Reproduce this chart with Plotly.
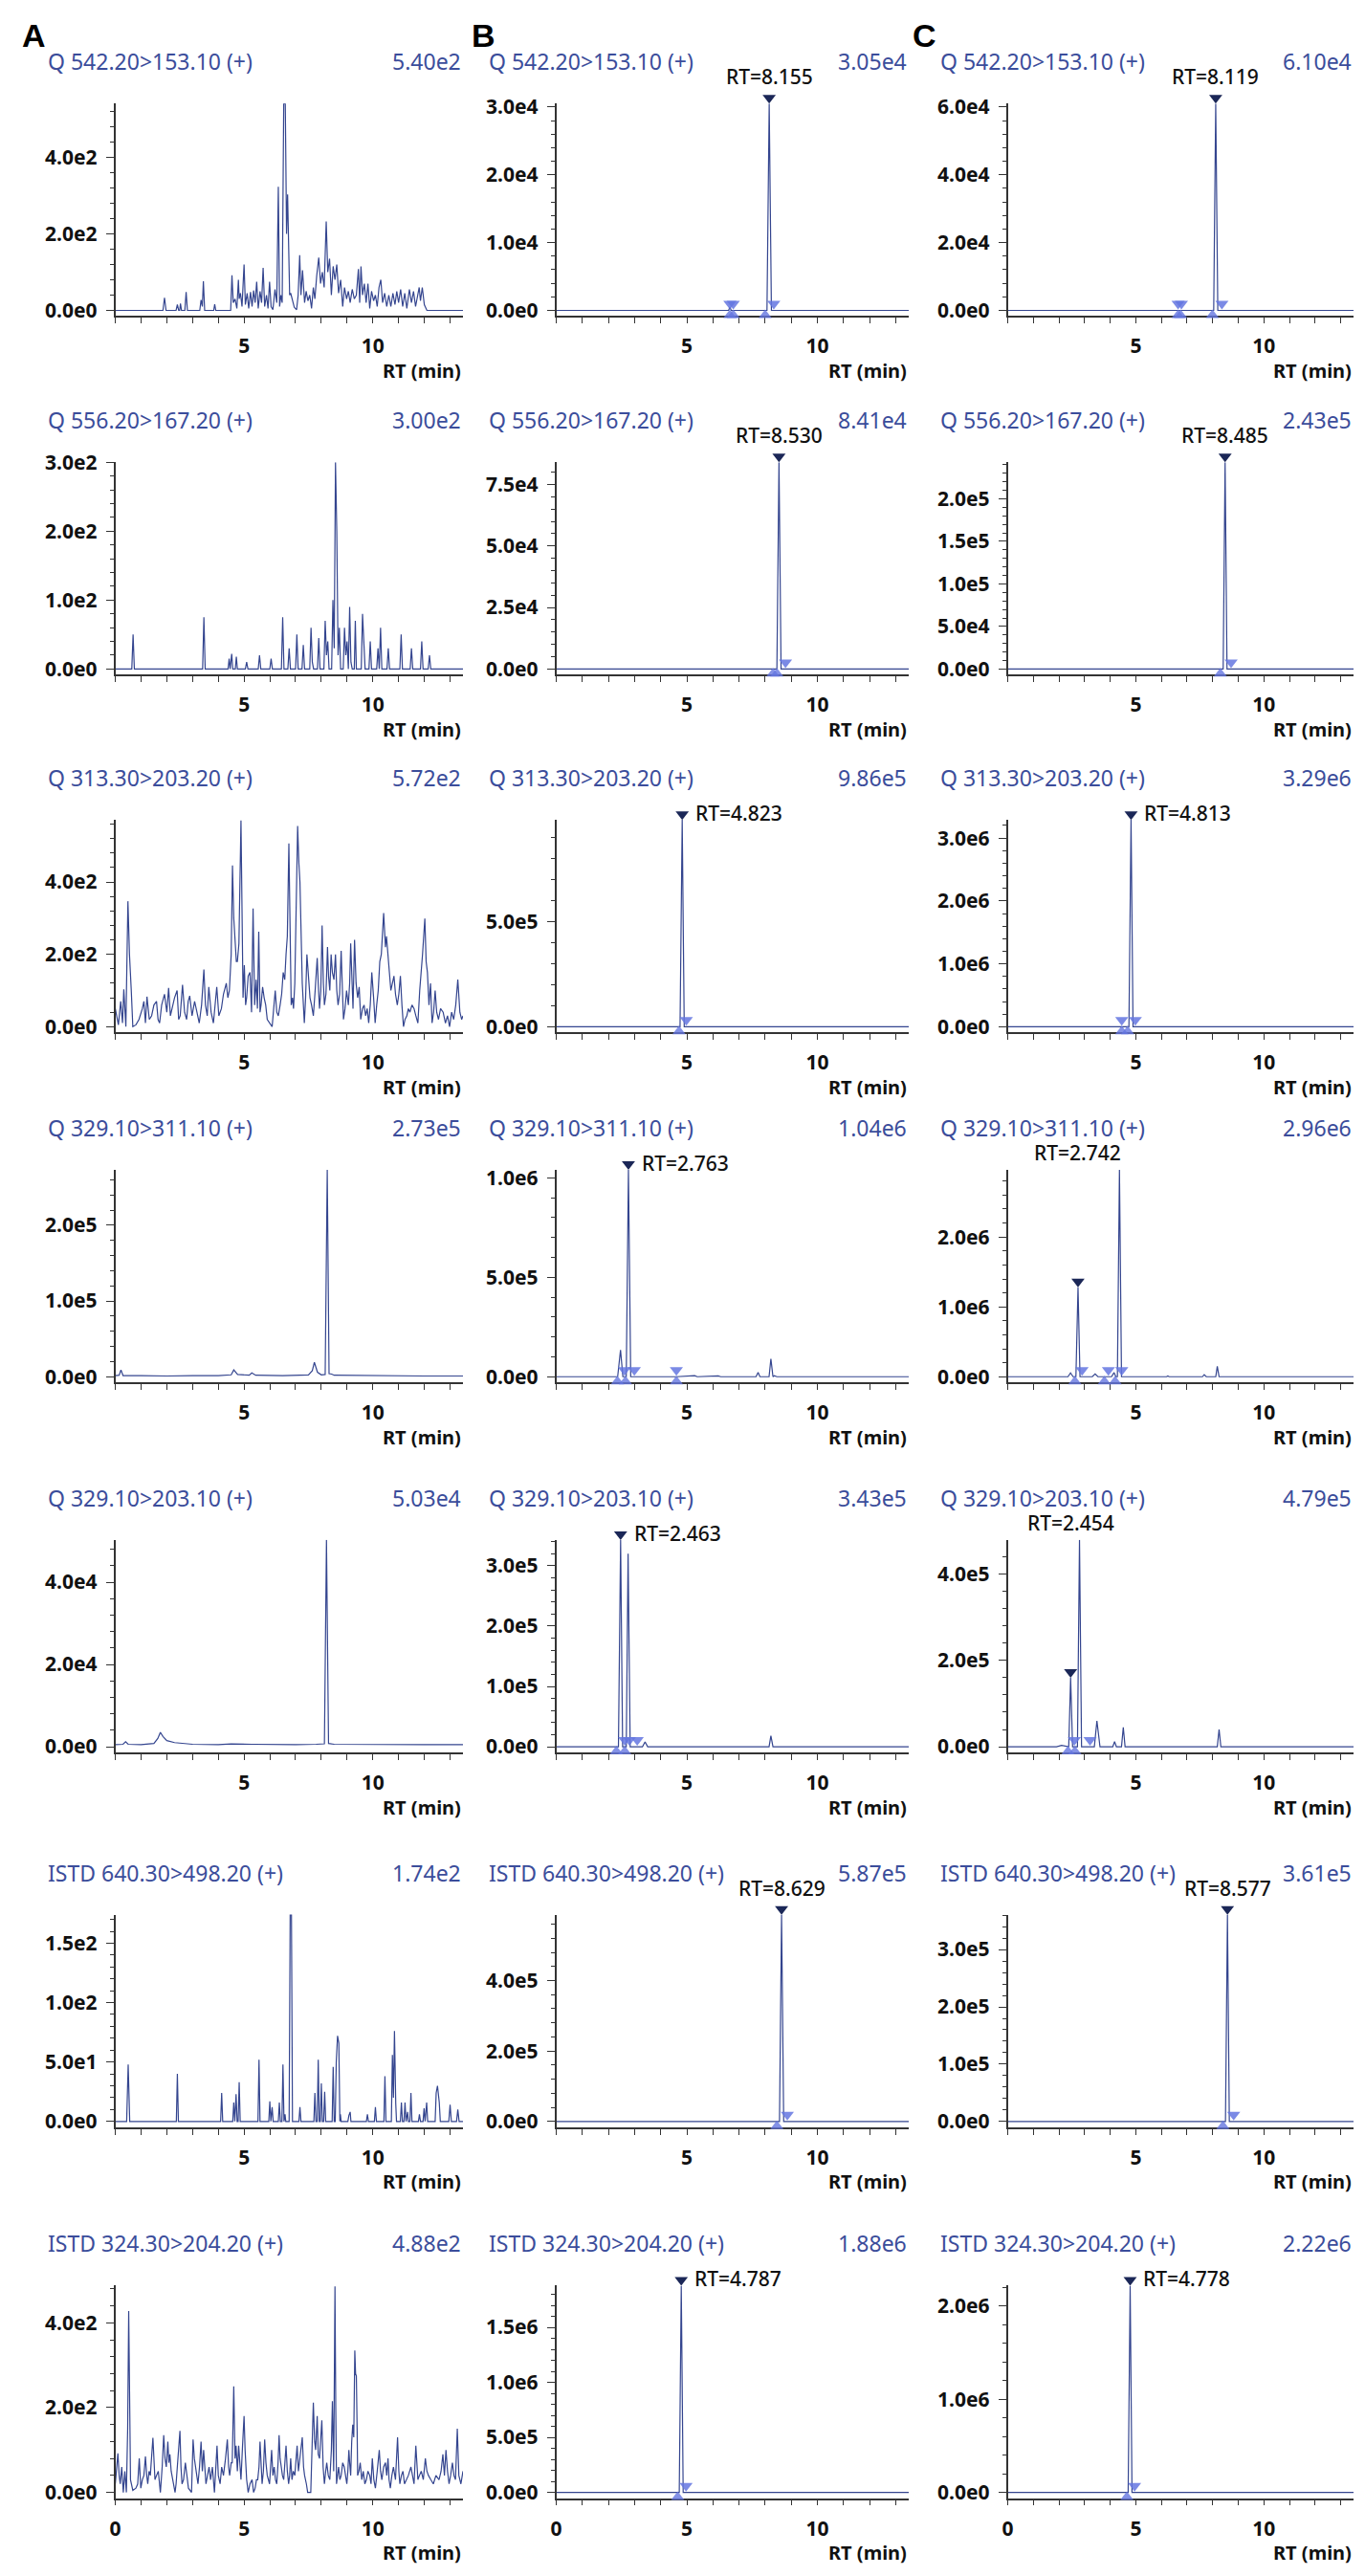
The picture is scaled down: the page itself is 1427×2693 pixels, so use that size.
import math
import plotly.graph_objects as go

# ---------------- values ----------------
ROW_TITLES = ["Q 542.20>153.10 (+)", "Q 556.20>167.20 (+)", "Q 313.30>203.20 (+)",
              "Q 329.10>311.10 (+)", "Q 329.10>203.10 (+)",
              "ISTD 640.30>498.20 (+)", "ISTD 324.30>204.20 (+)"]
PANEL_LETTERS = ["A", "B", "C"]

# intensity printed in the top-right corner (= y axis maximum)
MAX_A = [5.40e2, 3.00e2, 5.72e2, 2.73e5, 5.03e4, 1.74e2, 4.88e2]
MAX_B = [3.05e4, 8.41e4, 9.86e5, 1.04e6, 3.43e5, 5.87e5, 1.88e6]
MAX_C = [6.10e4, 2.43e5, 3.29e6, 2.96e6, 4.79e5, 3.61e5, 2.22e6]

# labelled y tick step per panel
YSTEP_A = [2e2, 1e2, 2e2, 1e5, 2e4, 5e1, 2e2]
YSTEP_B = [1e4, 2.5e4, 5e5, 5e5, 1e5, 2e5, 5e5]
YSTEP_C = [2e4, 5e4, 1e6, 1e6, 2e5, 1e5, 1e6]

# identified peak (retention time and apex height)
RT_B = [8.155, 8.530, 4.823, 2.763, 2.463, 8.629, 4.787]
RT_C = [8.119, 8.485, 4.813, 2.742, 2.454, 8.577, 4.778]
APEX_B = [3.05e4, 8.41e4, 9.86e5, 1.04e6, 3.43e5, 5.87e5, 1.88e6]
APEX_C = [6.10e4, 2.43e5, 3.29e6, 1.28e6, 1.60e5, 3.61e5, 2.22e6]

# integration marks: down triangles above the baseline, up triangles below it
DOWN_B = [[6.65, 6.78, 8.33], [8.78], [4.98], [2.61, 2.99, 4.60], [2.62, 2.80, 3.10], [8.85], [4.97]]
UP_B = [[6.65, 6.78, 8.00], [8.30, 8.45], [4.70], [2.34, 2.65, 4.60], [2.30, 2.62], [8.45], [4.65]]
DOWN_C = [[6.65, 6.78, 8.36], [8.72], [4.45, 4.98], [2.90, 3.93, 4.45], [2.60, 3.21], [8.82], [4.95]]
UP_C = [[6.65, 6.75, 7.99], [8.30], [4.45, 4.68], [2.62, 3.77, 4.19], [2.35, 2.62], [8.40], [4.65]]

# traces: (RT min, intensity)
A1_PTS = [(0, 0), (1.85, 0), (1.91, 33), (1.97, 0), (2.36, 0), (2.41, 15), (2.46, 0), (2.50, 0), (2.53, 18),
          (2.57, 0), (2.70, 0), (2.75, 48), (2.80, 0), (3.28, 0), (3.33, 27), (3.38, 10), (3.42, 76), (3.47, 0),
          (3.82, 0), (3.86, 16), (3.90, 0), (4.48, 0), (4.53, 92), (4.58, 20), (4.65, 30), (4.72, 5), (4.78, 80),
          (4.81, 30), (4.86, 45), (4.92, 10), (5.00, 120), (5.05, 15), (5.12, 45), (5.18, 5), (5.25, 48),
          (5.31, 10), (5.37, 52), (5.43, 20), (5.49, 75), (5.55, 5), (5.62, 50), (5.68, 20), (5.74, 111),
          (5.80, 10), (5.87, 40), (5.93, 5), (5.99, 75), (6.05, 10), (6.12, 2), (6.20, 55), (6.27, 20),
          (6.33, 323), (6.38, 10), (6.43, 40), (6.48, 20), (6.54, 540), (6.60, 540), (6.65, 200), (6.69, 303),
          (6.73, 200), (6.77, 40), (6.81, 45), (6.87, 30), (6.95, 8), (7.04, 2), (7.10, 40), (7.16, 144),
          (7.21, 40), (7.27, 105), (7.35, 20), (7.41, 50), (7.48, 25), (7.55, 40), (7.62, 5), (7.69, 60),
          (7.75, 30), (7.82, 90), (7.90, 138), (7.97, 70), (8.04, 100), (8.11, 60), (8.19, 232), (8.25, 100),
          (8.32, 135), (8.39, 40), (8.46, 115), (8.53, 80), (8.60, 120), (8.67, 45), (8.75, 80), (8.83, 10),
          (8.90, 60), (8.98, 30), (9.05, 50), (9.12, 20), (9.20, 55), (9.28, 30), (9.36, 40), (9.44, 108),
          (9.49, 20), (9.54, 115), (9.60, 40), (9.67, 70), (9.74, 20), (9.81, 70), (9.88, 5), (9.95, 50),
          (10.03, 25), (10.10, 40), (10.17, 10), (10.24, 60), (10.31, 80), (10.38, 20), (10.46, 45),
          (10.54, 10), (10.62, 40), (10.70, 10), (10.78, 45), (10.86, 15), (10.93, 50), (11.00, 20),
          (11.08, 55), (11.16, 10), (11.24, 45), (11.32, 5), (11.42, 55), (11.50, 20), (11.58, 50),
          (11.66, 10), (11.74, 45), (11.80, 60), (11.85, 25), (11.92, 60), (12.00, 15), (12.10, 0), (13.5, 0)]

A2_PTS = [(0, 0), (0.64, 0), (0.69, 50), (0.74, 0), (3.39, 0), (3.44, 75), (3.49, 0), (4.38, 0), (4.42, 15),
          (4.46, 0), (4.52, 22), (4.56, 0), (4.66, 0), (4.70, 18), (4.74, 0), (5.05, 0), (5.10, 10), (5.15, 0),
          (5.55, 0), (5.60, 20), (5.65, 0), (6.00, 0), (6.05, 15), (6.10, 0), (6.45, 0), (6.50, 75), (6.55, 0),
          (6.70, 0), (6.75, 30), (6.80, 0), (7.00, 0), (7.05, 50), (7.10, 0), (7.25, 0), (7.30, 35), (7.35, 0),
          (7.55, 0), (7.60, 60), (7.65, 10), (7.70, 0), (7.85, 0), (7.90, 45), (7.95, 0), (8.10, 0), (8.15, 70),
          (8.20, 20), (8.25, 40), (8.30, 0), (8.40, 0), (8.45, 100), (8.50, 30), (8.55, 300), (8.60, 200),
          (8.65, 20), (8.70, 60), (8.75, 0), (8.85, 0), (8.90, 60), (8.95, 20), (9.00, 40), (9.05, 0),
          (9.10, 90), (9.15, 10), (9.20, 0), (9.28, 0), (9.32, 70), (9.36, 0), (9.55, 0), (9.60, 80),
          (9.65, 30), (9.70, 0), (9.85, 0), (9.90, 40), (9.95, 0), (10.15, 0), (10.20, 30), (10.25, 0),
          (10.30, 60), (10.35, 0), (10.55, 0), (10.60, 30), (10.65, 0), (11.05, 0), (11.10, 50), (11.15, 0),
          (11.45, 0), (11.50, 30), (11.55, 0), (11.85, 0), (11.90, 40), (11.95, 0), (12.15, 0), (12.20, 20),
          (12.25, 0), (13.5, 0)]

A3_PTS = [(0, 50), (0.12, 5), (0.21, 70), (0.28, 10), (0.33, 103), (0.41, 0), (0.49, 347), (0.55, 200),
          (0.62, 100), (0.68, 0), (0.80, 5), (0.92, 20), (1.05, 50), (1.11, 70), (1.17, 10), (1.23, 83),
          (1.32, 20), (1.41, 30), (1.50, 60), (1.60, 70), (1.66, 20), (1.72, 10), (1.80, 60), (1.91, 90),
          (2.00, 40), (2.07, 107), (2.14, 30), (2.21, 50), (2.30, 80), (2.40, 100), (2.46, 20), (2.52, 30),
          (2.61, 116), (2.69, 40), (2.77, 20), (2.83, 70), (2.89, 85), (2.98, 30), (3.08, 70), (3.17, 40),
          (3.26, 10), (3.35, 60), (3.44, 158), (3.50, 60), (3.57, 30), (3.63, 110), (3.72, 40), (3.81, 10),
          (3.88, 60), (3.94, 110), (4.02, 30), (4.12, 50), (4.20, 90), (4.31, 120), (4.37, 80), (4.43, 100),
          (4.50, 200), (4.55, 446), (4.60, 300), (4.64, 250), (4.70, 180), (4.74, 180), (4.80, 230),
          (4.88, 570), (4.96, 80), (5.01, 170), (5.06, 60), (5.10, 80), (5.16, 140), (5.23, 150), (5.29, 40),
          (5.35, 327), (5.41, 60), (5.47, 130), (5.52, 50), (5.57, 263), (5.62, 40), (5.66, 60), (5.72, 110),
          (5.78, 80), (5.84, 60), (5.90, 20), (6.00, 10), (6.09, 0), (6.15, 50), (6.21, 100), (6.27, 40),
          (6.33, 30), (6.40, 60), (6.46, 90), (6.52, 150), (6.58, 130), (6.63, 200), (6.68, 250), (6.74, 507),
          (6.80, 150), (6.83, 60), (6.88, 80), (6.92, 50), (6.97, 120), (7.01, 270), (7.08, 555), (7.13, 450),
          (7.17, 400), (7.26, 120), (7.34, 10), (7.39, 80), (7.44, 200), (7.50, 140), (7.56, 80), (7.62, 60),
          (7.69, 30), (7.76, 100), (7.84, 190), (7.88, 120), (7.93, 50), (7.98, 100), (8.03, 280), (8.08, 120),
          (8.12, 60), (8.18, 90), (8.24, 220), (8.28, 140), (8.33, 100), (8.38, 200), (8.43, 150), (8.49, 130),
          (8.55, 200), (8.60, 100), (8.65, 60), (8.71, 90), (8.77, 210), (8.82, 100), (8.86, 20), (8.92, 50),
          (8.98, 100), (9.05, 60), (9.10, 120), (9.14, 230), (9.19, 100), (9.23, 50), (9.29, 240), (9.35, 120),
          (9.41, 80), (9.47, 110), (9.53, 20), (9.60, 50), (9.66, 60), (9.72, 30), (9.78, 50), (9.84, 10),
          (9.90, 60), (9.96, 150), (10.03, 80), (10.09, 10), (10.15, 60), (10.21, 100), (10.27, 180),
          (10.33, 200), (10.42, 314), (10.49, 220), (10.53, 250), (10.58, 200), (10.64, 150), (10.70, 100),
          (10.76, 120), (10.82, 140), (10.88, 90), (10.95, 60), (11.01, 90), (11.07, 140), (11.13, 60),
          (11.19, 0), (11.25, 20), (11.32, 30), (11.38, 50), (11.44, 40), (11.52, 60), (11.60, 50), (11.67, 30),
          (11.75, 10), (11.82, 100), (11.88, 150), (11.93, 200), (12.02, 299), (12.07, 180), (12.12, 150),
          (12.18, 60), (12.24, 120), (12.30, 10), (12.36, 40), (12.42, 100), (12.48, 40), (12.55, 20),
          (12.63, 50), (12.73, 40), (12.82, 10), (12.90, 30), (12.98, 0), (13.06, 40), (13.14, 20), (13.22, 60),
          (13.30, 130), (13.38, 40), (13.45, 20), (13.5, 30)]

A4_PTS = [(0, 1500), (0.15, 2000), (0.22, 9000), (0.30, 1500), (1.0, 1500), (2.0, 1000), (3.0, 1500),
          (4.0, 1500), (4.50, 2500), (4.60, 9000), (4.75, 3000), (5.20, 2000), (5.30, 5000), (5.45, 2000),
          (6.5, 1500), (7.0, 2000), (7.50, 2500), (7.65, 8000), (7.73, 19000), (7.85, 6000), (8.0, 2500),
          (8.15, 3000), (8.23, 273000), (8.30, 4000), (8.40, 3500), (8.50, 2000), (9.5, 1500), (10.5, 1500),
          (12.0, 1000), (13.5, 1000)]

A5_PTS = [(0, 500), (0.30, 600), (0.40, 1200), (0.50, 600), (1.0, 500), (1.50, 800), (1.65, 2000),
          (1.75, 3500), (1.85, 2500), (2.0, 1500), (2.3, 1000), (3.0, 600), (4.0, 500), (4.5, 700), (5.3, 600),
          (6.0, 500), (7.0, 500), (7.8, 600), (8.12, 700), (8.20, 50300), (8.28, 800), (8.5, 600), (10.0, 500),
          (12.0, 500), (13.5, 500)]

A6_PTS = [(0, 0), (0.44, 0), (0.50, 48), (0.56, 0), (2.37, 0), (2.41, 40), (2.45, 0), (4.09, 0), (4.13, 24),
          (4.17, 0), (4.56, 0), (4.60, 16), (4.64, 0), (4.69, 23), (4.73, 0), (4.77, 0), (4.81, 33), (4.85, 0),
          (5.54, 0), (5.58, 52), (5.62, 0), (5.96, 0), (6.00, 17), (6.04, 0), (6.09, 12), (6.13, 0), (6.33, 0),
          (6.37, 16), (6.41, 0), (6.47, 0), (6.51, 48), (6.55, 0), (6.59, 6), (6.62, 0), (6.75, 0), (6.79, 174),
          (6.84, 174), (6.88, 0), (7.13, 0), (7.17, 12), (7.21, 0), (7.71, 0), (7.75, 24), (7.79, 0), (7.84, 0),
          (7.88, 52), (7.92, 0), (7.96, 0), (8.00, 32), (8.04, 0), (8.09, 0), (8.13, 25), (8.17, 0), (8.42, 0),
          (8.46, 46), (8.50, 0), (8.54, 0), (8.58, 50), (8.63, 72), (8.68, 66), (8.72, 0), (8.74, 6), (8.77, 0),
          (9.03, 0), (9.07, 5), (9.12, 8), (9.15, 0), (9.75, 0), (9.79, 6), (9.83, 0), (10.06, 0), (10.10, 12),
          (10.14, 0), (10.43, 0), (10.47, 38), (10.51, 0), (10.72, 0), (10.76, 56), (10.80, 20), (10.84, 76),
          (10.89, 15), (10.92, 0), (11.07, 0), (11.11, 16), (11.15, 0), (11.21, 0), (11.25, 16), (11.29, 0),
          (11.35, 8), (11.38, 0), (11.44, 0), (11.48, 24), (11.52, 0), (11.77, 0), (11.81, 6), (11.85, 0),
          (11.95, 0), (11.99, 11), (12.03, 0), (12.09, 16), (12.13, 0), (12.42, 0), (12.46, 24), (12.51, 30),
          (12.58, 16), (12.62, 0), (12.95, 0), (13.00, 14), (13.05, 0), (13.25, 0), (13.30, 10), (13.35, 0),
          (13.5, 0)]

A7_PTS = [(0, 20), (0.05, 60), (0.10, 92), (0.15, 40), (0.19, 20), (0.25, 60), (0.31, 0), (0.37, 50),
          (0.43, 0), (0.48, 150), (0.52, 428), (0.56, 200), (0.59, 30), (0.68, 5), (0.80, 10), (0.87, 20),
          (0.93, 80), (0.99, 10), (1.05, 30), (1.11, 40), (1.17, 85), (1.22, 40), (1.26, 20), (1.31, 50),
          (1.36, 40), (1.46, 129), (1.50, 60), (1.54, 30), (1.60, 40), (1.67, 50), (1.75, 0), (1.82, 60),
          (1.88, 135), (1.93, 80), (1.98, 60), (2.04, 120), (2.08, 70), (2.12, 90), (2.17, 50), (2.22, 30),
          (2.32, 0), (2.36, 20), (2.41, 60), (2.51, 145), (2.55, 60), (2.59, 20), (2.65, 30), (2.72, 70),
          (2.78, 40), (2.84, 10), (2.96, 0), (3.02, 125), (3.07, 80), (3.11, 60), (3.16, 40), (3.21, 20),
          (3.27, 60), (3.33, 120), (3.38, 50), (3.43, 100), (3.52, 20), (3.58, 40), (3.64, 60), (3.70, 30),
          (3.77, 60), (3.85, 0), (3.90, 50), (3.95, 110), (4.00, 40), (4.07, 20), (4.13, 60), (4.20, 40),
          (4.28, 80), (4.35, 125), (4.40, 60), (4.44, 40), (4.50, 70), (4.54, 70), (4.60, 250), (4.65, 80),
          (4.69, 110), (4.74, 50), (4.79, 110), (4.84, 60), (4.88, 30), (4.94, 110), (5.00, 180), (5.04, 100),
          (5.06, 80), (5.10, 30), (5.16, 0), (5.23, 20), (5.31, 30), (5.37, 0), (5.43, 10), (5.48, 30),
          (5.53, 30), (5.58, 60), (5.62, 120), (5.66, 60), (5.70, 20), (5.75, 50), (5.80, 125), (5.85, 70),
          (5.90, 40), (5.99, 20), (6.03, 50), (6.07, 100), (6.12, 40), (6.17, 60), (6.22, 30), (6.27, 20),
          (6.32, 70), (6.36, 135), (6.40, 80), (6.44, 60), (6.49, 40), (6.54, 30), (6.58, 60), (6.63, 110),
          (6.68, 50), (6.73, 20), (6.77, 40), (6.81, 80), (6.86, 30), (6.91, 50), (6.97, 40), (7.01, 70),
          (7.06, 110), (7.11, 50), (7.16, 80), (7.21, 100), (7.26, 130), (7.31, 60), (7.35, 40), (7.42, 20),
          (7.47, 0), (7.59, 0), (7.64, 100), (7.69, 212), (7.74, 120), (7.78, 100), (7.84, 180), (7.88, 90),
          (7.93, 80), (8.02, 170), (8.07, 60), (8.12, 20), (8.17, 50), (8.21, 70), (8.27, 40), (8.33, 30),
          (8.39, 100), (8.43, 215), (8.48, 50), (8.53, 486), (8.56, 200), (8.59, 20), (8.63, 40), (8.67, 60),
          (8.72, 30), (8.77, 40), (8.83, 70), (8.89, 60), (8.94, 40), (8.99, 20), (9.03, 50), (9.07, 100),
          (9.10, 70), (9.14, 40), (9.18, 120), (9.22, 160), (9.26, 130), (9.30, 335), (9.33, 280), (9.36, 275),
          (9.39, 150), (9.41, 40), (9.46, 50), (9.51, 70), (9.57, 30), (9.63, 50), (9.69, 20), (9.75, 30),
          (9.81, 50), (9.88, 40), (9.93, 20), (9.98, 80), (10.04, 30), (10.10, 10), (10.17, 50), (10.25, 100),
          (10.30, 50), (10.35, 30), (10.42, 60), (10.49, 70), (10.54, 40), (10.59, 80), (10.63, 30),
          (10.68, 10), (10.74, 40), (10.80, 60), (10.88, 30), (10.96, 130), (11.01, 50), (11.05, 20),
          (11.11, 40), (11.17, 50), (11.23, 20), (11.30, 30), (11.38, 40), (11.48, 60), (11.54, 40),
          (11.60, 20), (11.67, 110), (11.71, 60), (11.75, 30), (11.81, 40), (11.88, 50), (11.96, 30),
          (12.04, 80), (12.10, 50), (12.16, 40), (12.25, 30), (12.35, 20), (12.45, 40), (12.57, 30),
          (12.65, 50), (12.72, 90), (12.78, 40), (12.84, 100), (12.90, 50), (12.96, 20), (13.02, 40),
          (13.09, 70), (13.15, 40), (13.21, 30), (13.28, 150), (13.34, 40), (13.42, 20), (13.5, 50)]

B1_PTS = [(0, 0), (6.60, 0), (6.65, 500), (6.70, 0), (8.07, 0), (8.155, 30500), (8.24, 0), (13.5, 0)]
B2_PTS = [(0, 0), (8.45, 0), (8.53, 84100), (8.61, 0), (13.5, 0)]
B3_PTS = [(0, 0), (4.74, 0), (4.823, 986000), (4.90, 0), (13.5, 0)]
B4_PTS = [(0, 0), (0.9, 2000), (1.0, 0), (2.35, 0), (2.46, 135000), (2.55, 0), (2.68, 0), (2.763, 1040000),
          (2.85, 0), (4.6, 0), (5.3, 5000), (5.4, 0), (6.2, 4000), (6.3, 0), (7.65, 0), (7.73, 22000),
          (7.80, 0), (8.15, 0), (8.22, 90000), (8.30, 0), (8.35, 5000), (8.45, 0), (13.5, 0)]
B5_PTS = [(0, 0), (2.38, 0), (2.463, 343000), (2.54, 0), (2.68, 0), (2.75, 320000), (2.83, 0), (3.30, 0),
          (3.40, 8000), (3.50, 0), (8.15, 0), (8.22, 18000), (8.30, 0), (13.5, 0)]
B6_PTS = [(0, 0), (8.55, 0), (8.629, 587000), (8.71, 0), (13.5, 0)]
B7_PTS = [(0, 0), (4.71, 0), (4.787, 1880000), (4.86, 0), (13.5, 0)]

C1_PTS = [(0, 0), (8.04, 0), (8.119, 61000), (8.20, 0), (13.5, 0)]
C2_PTS = [(0, 0), (8.41, 0), (8.485, 243000), (8.56, 0), (13.5, 0)]
C3_PTS = [(0, 0), (4.73, 0), (4.813, 3290000), (4.89, 0), (13.5, 0)]
C4_PTS = [(0, 0), (1.7, 0), (1.8, 8000), (1.9, 0), (2.35, 0), (2.45, 55000), (2.55, 0), (2.66, 0),
          (2.742, 1280000), (2.82, 0), (3.30, 0), (3.41, 40000), (3.52, 0), (4.05, 0), (4.15, 60000),
          (4.22, 0), (4.28, 0), (4.36, 2960000), (4.44, 0), (6.2, 0), (6.25, 10000), (6.3, 0), (7.60, 0),
          (7.67, 30000), (7.75, 0), (8.12, 0), (8.18, 150000), (8.25, 0), (13.5, 0)]
C5_PTS = [(0, 0), (1.9, 0), (2.1, 3000), (2.3, 0), (2.38, 0), (2.454, 160000), (2.53, 0), (2.72, 0),
          (2.80, 479000), (2.88, 0), (3.38, 0), (3.48, 60000), (3.60, 0), (4.10, 0), (4.17, 12000), (4.24, 0),
          (4.44, 0), (4.51, 45000), (4.58, 0), (8.18, 0), (8.25, 40000), (8.32, 0), (13.5, 0)]
C6_PTS = [(0, 0), (8.50, 0), (8.577, 361000), (8.65, 0), (13.5, 0)]
C7_PTS = [(0, 0), (4.70, 0), (4.778, 2220000), (4.85, 0), (13.5, 0)]

X_RANGE = [0, 13.5]

# ---------------- layout (pixel grid of the original figure) ----------------
PAGE_PAD = 8                        # browser body margin around the plot div
W, H = 1427 - 2 * PAGE_PAD, 2693 - 2 * PAGE_PAD
COL_PX = [(115, 480), (578, 948), (1052, 1415)]
ROW_TITLE_PX = [50, 428, 805, 1174, 1564, 1959, 2350]
TOP_OFF, BOT_OFF = 44, 268          # plot top / x-axis line below each title line
ZERO_LIFT = 6                       # baseline sits above the x axis line
MARK_ROOM_TOP, MARK_ROOM_BOT = 24, 12   # extra room of the invisible marker layer
LABEL_SIDE_B = ["above", "above", "right", "right", "right", "above", "right"]
LABEL_SIDE_C = ["above", "above", "right", "above", "above", "above", "right"]
LETTER_X = [15, 487, 950]

LINE = "#34458f"
TITLE_BLUE = "#3b4d9b"
APEX_NAVY = "#1b2757"
EDGE_BLUE = "#6475e0"
AXIS = "#333333"
FONT = "Noto Sans"


def px_x(v):
    return (v - PAGE_PAD) / W


def px_y(v):
    return 1 - (v - PAGE_PAD) / H


def sci(v, digits):
    if v == 0:
        return f"{0:.{digits}f}e0"
    e = int(math.floor(math.log10(v) + 1e-9))
    return f"{v / 10 ** e:.{digits}f}e{e}"


PTS = [[A1_PTS, B1_PTS, C1_PTS], [A2_PTS, B2_PTS, C2_PTS], [A3_PTS, B3_PTS, C3_PTS],
       [A4_PTS, B4_PTS, C4_PTS], [A5_PTS, B5_PTS, C5_PTS], [A6_PTS, B6_PTS, C6_PTS],
       [A7_PTS, B7_PTS, C7_PTS]]
MAXES = [MAX_A, MAX_B, MAX_C]
YSTEPS = [YSTEP_A, YSTEP_B, YSTEP_C]

fig = go.Figure()
annotations = []
layout_axes = {}
tick_font = dict(family=FONT, size=21, color="#111111", weight="bold")
mark_axis = 21

for r in range(7):
    top_px = ROW_TITLE_PX[r] + TOP_OFF
    bot_px = ROW_TITLE_PX[r] + BOT_OFF
    plot_h = bot_px - top_px
    for c in range(3):
        n = r * 3 + c + 1
        xname = "x" if n == 1 else f"x{n}"
        yname = "y" if n == 1 else f"y{n}"
        xkey = "xaxis" if n == 1 else f"xaxis{n}"
        ykey = "yaxis" if n == 1 else f"yaxis{n}"
        x0, x1 = COL_PX[c]

        ymax = MAXES[c][r]
        step = YSTEPS[c][r]
        per_px = ymax / (plot_h - ZERO_LIFT)
        ymin = -ZERO_LIFT * per_px

        ticks = []
        k = 0
        while k * step <= ymax * 1.0001:
            ticks.append(k * step)
            k += 1

        pts = PTS[r][c]
        fig.add_trace(go.Scatter(
            x=[p[0] for p in pts], y=[p[1] for p in pts], mode="lines",
            line=dict(color=LINE, width=1.2), xaxis=xname, yaxis=yname,
            hoverinfo="skip", showlegend=False))

        if c > 0:
            rt = (RT_B if c == 1 else RT_C)[r]
            apex = (APEX_B if c == 1 else APEX_C)[r]
            downs = (DOWN_B if c == 1 else DOWN_C)[r]
            ups = (UP_B if c == 1 else UP_C)[r]
            side = (LABEL_SIDE_B if c == 1 else LABEL_SIDE_C)[r]

            # invisible axes with the same scale but some room above/below for the markers
            mark_axis += 1
            mx, my = f"x{mark_axis}", f"y{mark_axis}"
            layout_axes[f"xaxis{mark_axis}"] = dict(
                domain=[px_x(x0), px_x(x1)], anchor=my, range=X_RANGE, visible=False, fixedrange=True)
            layout_axes[f"yaxis{mark_axis}"] = dict(
                domain=[px_y(bot_px + MARK_ROOM_BOT), px_y(top_px - MARK_ROOM_TOP)], anchor=mx,
                range=[ymin - MARK_ROOM_BOT * per_px, ymax + MARK_ROOM_TOP * per_px],
                visible=False, fixedrange=True)

            fig.add_trace(go.Scatter(
                x=downs, y=[7 * per_px] * len(downs), mode="markers",
                marker=dict(symbol="triangle-down", size=12, color=EDGE_BLUE, opacity=0.85),
                xaxis=mx, yaxis=my, hoverinfo="skip", showlegend=False))
            fig.add_trace(go.Scatter(
                x=ups, y=[-5 * per_px] * len(ups), mode="markers",
                marker=dict(symbol="triangle-up", size=12, color=EDGE_BLUE, opacity=0.8),
                xaxis=mx, yaxis=my, hoverinfo="skip", showlegend=False))
            fig.add_trace(go.Scatter(
                x=[rt], y=[apex + 6 * per_px], mode="markers",
                marker=dict(symbol="triangle-down", size=12, color=APEX_NAVY),
                xaxis=mx, yaxis=my, hoverinfo="skip", showlegend=False))

            label = f"RT={rt:.3f}"
            label_font = dict(family=FONT, size=21, color="#111111", weight=500)
            if side == "right":
                annotations.append(dict(
                    x=rt, y=apex, xref=xname, yref=yname, text=label, showarrow=False,
                    xanchor="left", yanchor="middle", xshift=12, yshift=7, font=label_font))
            else:
                lift = 28 if apex >= ymax * 0.99 else 18
                annotations.append(dict(
                    x=rt, y=1, xref=xname, yref=f"{yname} domain", text=label, showarrow=False,
                    xanchor="center", yanchor="middle", yshift=lift, font=label_font))

        xticks = [0, 5, 10] if r == 6 else [5, 10]
        layout_axes[xkey] = dict(
            domain=[px_x(x0), px_x(x1)], anchor=yname, range=X_RANGE,
            showline=True, linecolor=AXIS, linewidth=1.6, mirror=False,
            ticks="outside", ticklen=6, tickwidth=1.3, tickcolor=AXIS,
            tickvals=xticks, ticktext=[str(v) for v in xticks], ticklabelstandoff=6,
            minor=dict(dtick=1, tick0=0, ticks="outside", ticklen=6, tickwidth=1.3, tickcolor=AXIS,
                       showgrid=False),
            showgrid=False, zeroline=False, fixedrange=True, tickfont=tick_font)
        layout_axes[ykey] = dict(
            domain=[px_y(bot_px), px_y(top_px)], anchor=xname, range=[ymin, ymax],
            showline=True, linecolor=AXIS, linewidth=1.6,
            ticks="outside", ticklen=8, tickwidth=1.3, tickcolor=AXIS,
            tickvals=ticks, ticktext=[sci(v, 1) for v in ticks], ticklabelstandoff=5,
            minor=dict(dtick=step / 5, tick0=0, ticks="outside", ticklen=4, tickwidth=1.2,
                       tickcolor=AXIS, showgrid=False),
            showgrid=False, zeroline=False, fixedrange=True, tickfont=tick_font)

        # transition name and maximum intensity above each chromatogram
        annotations.append(dict(
            x=0, y=1, xref=f"{xname} domain", yref=f"{yname} domain", text=ROW_TITLES[r],
            showarrow=False, xanchor="left", yanchor="middle", xshift=-73, yshift=TOP_OFF,
            font=dict(family=FONT, size=23, color=TITLE_BLUE)))
        annotations.append(dict(
            x=1, y=1, xref=f"{xname} domain", yref=f"{yname} domain", text=sci(ymax, 2),
            showarrow=False, xanchor="right", yanchor="middle", yshift=TOP_OFF,
            font=dict(family=FONT, size=23, color=TITLE_BLUE)))
        annotations.append(dict(
            x=1, y=0, xref=f"{xname} domain", yref=f"{yname} domain", text="RT (min)",
            showarrow=False, xanchor="right", yanchor="middle", yshift=-57,
            font=dict(family=FONT, size=20, color="#111111", weight="bold")))

for c, letter in enumerate(PANEL_LETTERS):
    annotations.append(dict(
        x=px_x(LETTER_X[c]), y=px_y(22), xref="paper", yref="paper", text=letter, showarrow=False,
        xanchor="left", yanchor="middle",
        font=dict(family="Liberation Sans", size=34, color="#000000", weight="bold")))

fig.update_layout(
    width=W, height=H,
    margin=dict(l=0, r=0, t=0, b=0),
    paper_bgcolor="white", plot_bgcolor="rgba(0,0,0,0)",
    showlegend=False,
    annotations=annotations,
    **layout_axes)

fig.write_html("out.html")
